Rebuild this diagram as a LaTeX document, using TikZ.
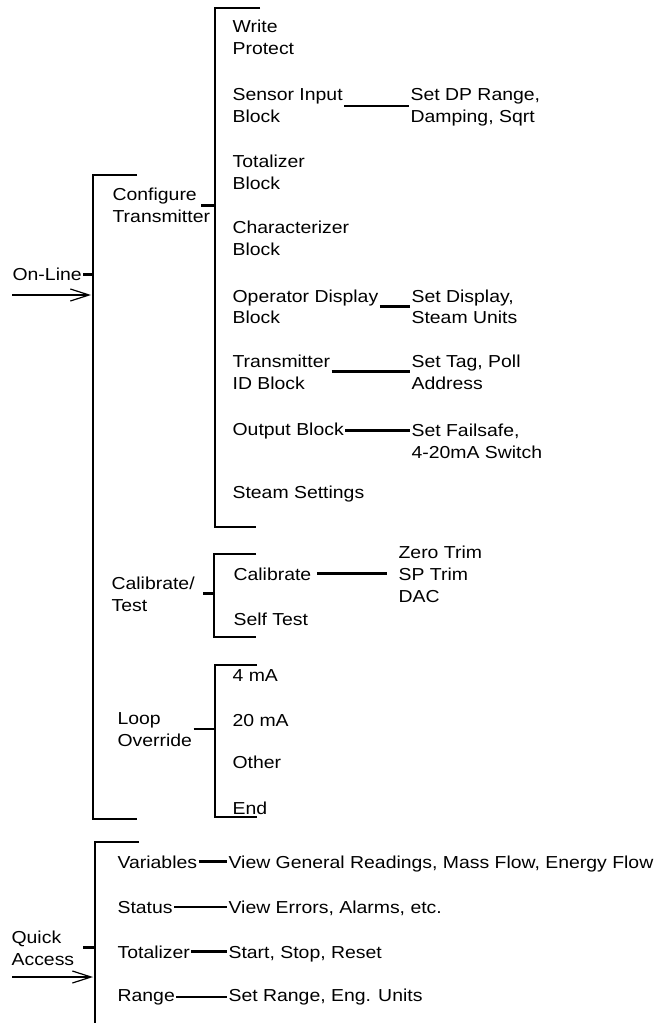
\documentclass[tikz,border=0pt]{standalone}
\usepackage{fontspec}
\setmainfont{Liberation Sans}[FakeStretch=1.12]
\usetikzlibrary{arrows.meta}

\begin{document}
\begin{tikzpicture}[x=0.75pt,y=-0.75pt,
  every node/.style={font=\fontsize{13}{16.5}\selectfont, align=left, anchor=base west, inner xsep=1pt, inner ysep=0pt},
  brace/.style={line width=1.1pt},
  stub/.style={line width=2pt},
  link/.style={line width=2pt},
  entry/.style={line width=2pt, -{Straight Barb[length=14pt,width=9pt,line width=0.9pt]}}]
  \useasboundingbox (0,0) rectangle (662,1023);

  % top level: On-Line
  \node (online) at (11,281) {On-Line};
  \coordinate (mainTop) at (93,175);
  \coordinate (mainBot) at (93,819);
  \draw[brace] (137,175) -- (mainTop) -- (mainBot) -- (137,819);
  \draw[stub] (online.east -| mainTop) -- ++(-10,0);
  \coordinate (onIn) at (12,295);
  \draw[entry] (onIn) -- ([xshift=-1.5pt]onIn -| mainTop);

  % Configure Transmitter (base = last line)
  \node (cfg) at (111,223) {Configure\\Transmitter};
  \coordinate (cfgTop) at (215,8);
  \coordinate (cfgBot) at (215,527);
  \draw[brace] (260,8) -- (cfgTop) -- (cfgBot) -- (256,527);
  \draw[stub] (cfg.east -| cfgTop) -- ++(-14,0);
  \foreach \id/\txt/\yb in {wp/{Write\\Protect}/55, sens/{Sensor Input\\Block}/123,
      tot/{Totalizer\\Block}/190, chr/{Characterizer\\Block}/256,
      opd/{Operator Display\\Block}/324, tid/{Transmitter\\ID Block}/389,
      outb/{Output Block}/435, steam/{Steam Settings}/498}
    \node (\id) at (231,\yb) {\txt};
  \node (dp) at (409,123) {Set DP Range,\\Damping, Sqrt};
  \node (disp) at (410,324) {Set Display,\\Steam Units};
  \node (tag) at (410,389) {Set Tag, Poll\\Address};
  \node (fs) at (410,458) {Set Failsafe,\\4-20mA Switch};
  \foreach \a/\b in {sens/dp, opd/disp, tid/tag, outb/fs}
    \draw[link] (\a.east) -- (\a.east -| \b.west);

  % Calibrate/Test
  \node (calt) at (110,611) {Calibrate/\\Test};
  \coordinate (calTop) at (214,554);
  \coordinate (calBot) at (214,637);
  \draw[brace] (256,554) -- (calTop) -- (calBot) -- (256,637);
  \draw[stub] (calt.east -| calTop) -- ++(-11,0);
  \node (cal) at (232,580) {Calibrate};
  \node (self) at (232,625) {Self Test};
  \node (trims) at (397,602) {Zero Trim\\SP Trim\\DAC};
  \draw[link, shorten <=3pt, shorten >=7.5pt] (cal.east) -- (cal.east -| trims.west);

  % Loop Override
  \node (loop) at (116,746) {Loop\\Override};
  \coordinate (loopTop) at (215,665);
  \coordinate (loopBot) at (215,817);
  \draw[brace] (257,665) -- (loopTop) -- (loopBot) -- (257,817);
  \draw[stub] (loop.east) -- (loop.east -| loopTop);
  \foreach \id/\txt/\yb in {ma4/{4 mA}/681, ma20/{20 mA}/726, oth/{Other}/768, fin/{End}/814}
    \node (\id) at (231,\yb) {\txt};

  % Quick Access
  \node (quick) at (10,965) {Quick\\Access};
  \coordinate (qTop) at (95,842);
  \coordinate (qBot) at (95,1023);
  \draw[brace] (139,842) -- (qTop) -- (qBot);
  \draw[stub] (quick.east -| qTop) -- ++(-12,0);
  \coordinate (qIn) at (12,977);
  \draw[entry] (qIn) -- ([xshift=-1.5pt]qIn -| qTop);
  \foreach \id/\txt/\desc/\dtxt/\yb in {vars/{Variables}/vview/{View General Readings, Mass Flow, Energy Flow}/868,
      stat/{Status}/sview/{View Errors, Alarms, etc.}/913,
      totq/{Totalizer}/tview/{Start, Stop, Reset}/958,
      rng/{Range}/rview/{Set Range, Eng. Units}/1001} {
    \node (\id) at (116,\yb) {\txt};
    \node (\desc) at (227,\yb) {\dtxt};
    \draw[link] (\id.east) -- (\id.east -| \desc.west);
  }
\end{tikzpicture}
\end{document}
